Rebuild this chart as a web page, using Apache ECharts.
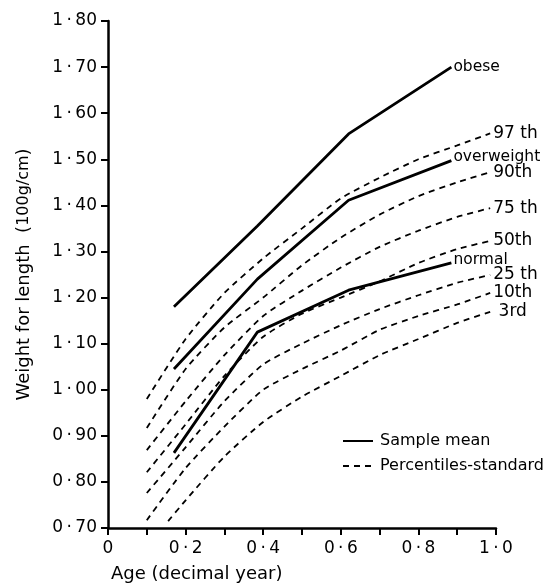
<!DOCTYPE html>
<html>
<head>
<meta charset="utf-8">
<script src="https://cdn.jsdelivr.net/npm/echarts@6/dist/echarts.min.js"></script>
<style>
  html, body { margin: 0; padding: 0; background: #fff; }
  #main { width: 545px; height: 584px; }
</style>
</head>
<body>
<div id="main"></div>
<script>
// percentile (standard) curves
var pctAges = [0.1, 0.2, 0.3, 0.4, 0.5, 0.6, 0.7, 0.8, 0.9, 0.985];
var p97 = [0.98, 1.11, 1.21, 1.285, 1.35, 1.415, 1.46, 1.50, 1.53, 1.556];
var p90 = [0.917, 1.045, 1.135, 1.20, 1.27, 1.33, 1.38, 1.42, 1.45, 1.472];
var p75 = [0.869, 0.975, 1.075, 1.16, 1.215, 1.265, 1.31, 1.345, 1.375, 1.394];
var p50 = [0.821, 0.925, 1.03, 1.115, 1.165, 1.20, 1.235, 1.275, 1.305, 1.323];
var p25 = [0.776, 0.875, 0.975, 1.055, 1.10, 1.14, 1.175, 1.205, 1.232, 1.249];
var p10 = [0.717, 0.83, 0.92, 1.00, 1.045, 1.085, 1.13, 1.16, 1.185, 1.21];
var p3Ages = [0.155, 0.2, 0.3, 0.4, 0.5, 0.6, 0.7, 0.8, 0.9, 0.985];
var p3 = [0.715, 0.76, 0.855, 0.93, 0.985, 1.03, 1.075, 1.11, 1.145, 1.169];

// sample means
var meanAges = [0.17, 0.385, 0.62, 0.885];
var obese = [1.18, 1.355, 1.555, 1.70];
var overweight = [1.045, 1.24, 1.411, 1.497];
var normal = [0.863, 1.125, 1.216, 1.275];

var FONT = 'DejaVu Sans';

function pairs(xs, ys) {
    return xs.map(function (x, i) { return [x, ys[i]]; });
}
function dot(v, d) {
    if (v === 0) return '0';
    return v.toFixed(d).replace('.', '\u2009·\u2009');
}

function meanSeries(label, ys, off) {
    return {
        name: 'Sample mean',
        type: 'line',
        data: pairs(meanAges, ys),
        symbol: 'none',
        lineStyle: { color: '#000', width: 2.8 },
        itemStyle: { color: '#000' },
        endLabel: {
            show: true, formatter: label, distance: 2, offset: [0, off],
            fontFamily: FONT, fontSize: 15.5, color: '#000'
        },
        z: 3
    };
}
function pctSeries(label, xs, ys) {
    return {
        name: 'Percentiles-standard',
        type: 'line',
        data: pairs(xs, ys),
        symbol: 'none',
        smooth: 0.2,
        lineStyle: { color: '#000', width: 1.8, type: [6, 5] },
        itemStyle: { color: '#000' },
        endLabel: {
            show: true, formatter: label, distance: 3,
            fontFamily: FONT, fontSize: 17, color: '#000'
        },
        z: 2
    };
}

var chart = echarts.init(document.getElementById('main'));
chart.setOption({
    backgroundColor: '#fff',
    animation: false,
    title: {
        text: 'Age (decimal year)',
        left: 106, top: 560,
        textStyle: { fontFamily: FONT, fontSize: 18, fontWeight: 'normal', color: '#000' }
    },
    legend: {
        data: ['Sample mean', 'Percentiles-standard'],
        orient: 'vertical',
        left: 337, top: 428,
        itemWidth: 30, itemHeight: 14, itemGap: 9,
        itemStyle: { opacity: 0 },
        textStyle: { fontFamily: FONT, fontSize: 16, color: '#000', padding: [0, 0, 0, 2] }
    },
    grid: { left: 108, top: 21, width: 388, height: 507 },
    xAxis: {
        type: 'value', min: 0, max: 1, interval: 0.1,
        axisLine: { lineStyle: { color: '#000', width: 2.5 } },
        axisTick: { length: 7, inside: false, lineStyle: { color: '#000', width: 2 } },
        axisLabel: {
            margin: 12, fontFamily: FONT, fontSize: 17, color: '#000',
            formatter: function (v) {
                var k = Math.round(v * 10);
                return k % 2 === 0 ? dot(v, 1) : '';
            }
        },
        splitLine: { show: false }
    },
    yAxis: {
        type: 'value', min: 0.7, max: 1.8, interval: 0.1,
        name: 'Weight for length  ({s|100g/cm})',
        nameLocation: 'middle', nameGap: 75,
        nameTextStyle: {
            fontFamily: FONT, fontSize: 18, color: '#000',
            rich: { s: { fontFamily: FONT, fontSize: 16, color: '#000' } }
        },
        axisLine: { lineStyle: { color: '#000', width: 2.5 } },
        axisTick: { length: 7, lineStyle: { color: '#000', width: 2 } },
        axisLabel: {
            margin: 11, fontFamily: FONT, fontSize: 17, color: '#000',
            formatter: function (v) { return dot(v, 2); }
        },
        splitLine: { show: false }
    },
    series: [
        meanSeries('obese', obese, 0),
        meanSeries('overweight', overweight, -4),
        meanSeries('normal', normal, -3),
        pctSeries('97 th', pctAges, p97),
        pctSeries('90th', pctAges, p90),
        pctSeries('75 th', pctAges, p75),
        pctSeries('50th', pctAges, p50),
        pctSeries('25 th', pctAges, p25),
        pctSeries('10th', pctAges, p10),
        pctSeries(' 3rd', p3Ages, p3)
    ]
});
</script>
</body>
</html>
